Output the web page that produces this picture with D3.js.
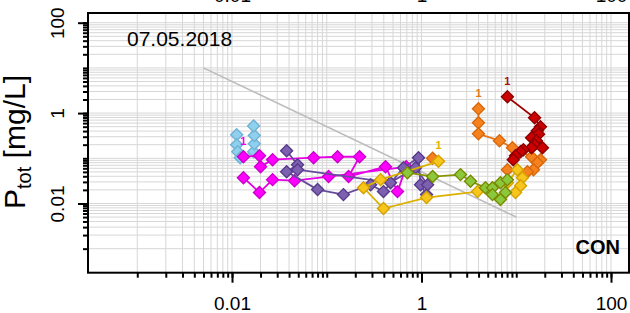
<!DOCTYPE html>
<html><head><meta charset="utf-8">
<script src="https://cdn.jsdelivr.net/npm/d3@7"></script>
<style>body{margin:0;background:#fff}svg{display:block}text{font-family:"Liberation Sans",Arial,sans-serif}</style>
</head><body><svg id="chart" width="630" height="313"></svg>
<script>
const xLabelTicks=[0.01,1,100];
const yLabelTicks=[0.01,1,100];
const tickDecades=[-3,-2,-1,0,1,2];
const dateLabel='07.05.2018';
const panelLabel='CON';
const startLabel='1';
const refLine=[[0.005,10],[10,0.005]];
// [Q, Ptot] pairs, in sampling order (null = gap in the line)
const lightBlue=[[0.0112,0.33],[0.0112,0.2],[0.0115,0.14],[0.0122,0.103],[0.0169,0.14],[0.0172,0.21],[0.0172,0.32],[0.0169,0.52]];
const magenta=[[0.0132,0.108],[0.0195,0.114],[0.02,0.0653],[0.0268,0.093],[0.0726,0.103],[0.13,0.108],[0.222,0.108],[0.17,0.0393],[0.417,0.0653],[0.558,0.0183],[0.69,0.065],[0.1045,0.0393],[0.0457,0.032],[0.0268,0.0337],[0.0195,0.0174],[0.0132,0.0373]];
const purple=[[0.0377,0.147],[0.0492,0.072],[0.0377,0.0506],[0.08,0.0203],[0.15,0.0157],[0.29,0.0261],[0.397,0.0183],[0.645,0.062],[0.93,0.103],[0.976,0.0261],[1.13,0.0157],[1.16,0.0261],[0.865,0.062],[0.471,0.0289],[0.0492,0.056]];
const orange=[[3.99,1.24],[3.99,0.611],[3.99,0.349],[6.65,0.245],[9.12,0.171],[14.5,0.108],[18,0.093],[16.7,0.08],[15.2,0.056],[13.1,0.0506],[8.07,0.056],null,[1.31,0.1]];
const darkRed=[[8.07,2.29],[15.6,0.787],[18,0.5],[16.7,0.407],[17.2,0.34],[14.5,0.285],[16.3,0.245],[15.6,0.2],[18.9,0.171],[14.5,0.171],[11.9,0.155],[11.1,0.14],[9.82,0.114],[9.3,0.093]];
const gold=[[1.51,0.0855],[0.37,0.0337],[0.244,0.0224],[0.397,0.0077],[1.13,0.0135],[3.9,0.0183],[8.07,0.0289],[10.3,0.056],[11.6,0.0373],[11.1,0.0248],[9.82,0.0174]];
const olive=[[0.711,0.048],[1.31,0.0393],[2.58,0.0435],[3.29,0.031],[4.73,0.0224],[5.61,0.0224],[6.81,0.0289],[8.07,0.0337],[7.69,0.0174],[6.81,0.0122],[5.61,0.0157]];
const seriesNames=['lightBlue','magenta','purple','orange','darkRed','gold','olive'];
const seriesData=[lightBlue,magenta,purple,orange,darkRed,gold,olive];
const labelledSeries=['magenta','orange','darkRed','gold'];

const style={
  lightBlue:{fill:'#8fd0ee',stroke:'#6fb2d4',line:'#8fc8e4',label:'#6fb2d4'},
  magenta:{fill:'#ff00ff',stroke:'#cc00cc',line:'#e600e6',label:'#ee00ee'},
  purple:{fill:'#7d60b0',stroke:'#583c8c',line:'#684a9c',label:'#684a9c'},
  orange:{fill:'#f6821f',stroke:'#d8680c',line:'#e8761a',label:'#e8761a'},
  darkRed:{fill:'#cc0000',stroke:'#8e0000',line:'#a00000',label:'#a81010'},
  gold:{fill:'#f7c51c',stroke:'#d5a300',line:'#dcb000',label:'#e0b400'},
  olive:{fill:'#8cc83c',stroke:'#7a8a00',line:'#8a9400',label:'#7a8a00'}
};

const L=88,R=629,T=13,B=272.7;
const svg=d3.select('#chart');
const x=d3.scaleLog().domain([0.000302,154.9]).range([L,R]);
const y=d3.scaleLog().domain([0.000294,163.9]).range([B,T]);
const allTicks=tickDecades.flatMap(k=>d3.range(1,10).map(m=>+(m*Math.pow(10,k)).toPrecision(3))).filter(v=>v<=100);

svg.append('defs').append('clipPath').attr('id','clip').append('rect').attr('x',L).attr('y',T).attr('width',R-L).attr('height',B-T);

// grid
const grid=svg.append('g').attr('stroke','#d7d7d7').attr('stroke-width',1);
grid.selectAll('.gx').data(allTicks).join('line').attr('x1',d=>x(d)).attr('x2',d=>x(d)).attr('y1',T).attr('y2',B);
grid.selectAll('.gy').data(allTicks).join('line').attr('y1',d=>y(d)).attr('y2',d=>y(d)).attr('x1',L).attr('x2',R);

// reference line
svg.append('path').datum(refLine).attr('fill','none').attr('stroke','#bcbcbc').attr('stroke-width',1.6)
  .attr('d',d3.line().x(d=>x(d[0])).y(d=>y(d[1])));

// series
const plot=svg.append('g').attr('clip-path','url(#clip)');
const line=d3.line().defined(d=>d!==null).x(d=>x(d[0])).y(d=>y(d[1]));
const diamond=d3.symbol(d3.symbolSquare,72);
seriesNames.forEach((name,i)=>{
  const s=style[name],pts=seriesData[i];
  const g=plot.append('g');
  g.append('path').datum(pts).attr('fill','none').attr('stroke',s.line).attr('stroke-width',1.8).attr('d',line);
  g.selectAll('path.pt').data(pts.filter(d=>d!==null)).join('path').attr('class','pt').attr('d',diamond)
    .attr('transform',d=>`translate(${x(d[0])},${y(d[1])}) rotate(45)`)
    .attr('fill',s.fill).attr('stroke',s.stroke).attr('stroke-width',1.4);
  if(labelledSeries.includes(name)){
    g.append('text').attr('x',x(pts[0][0])).attr('y',y(pts[0][1])-12).attr('text-anchor','middle')
      .attr('font-size',11).attr('font-weight','bold').attr('fill',s.label).text(startLabel);
  }
});

// axes
function styleAxis(g){g.select('.domain').remove();g.selectAll('line').attr('stroke','#000').attr('stroke-width',2);g.selectAll('text').attr('fill','#000').attr('font-size',19)}
svg.append('g').attr('transform',`translate(0,${B})`).call(d3.axisBottom(x).tickValues(allTicks).tickSize(5).tickFormat('')).call(styleAxis);
svg.append('g').attr('transform',`translate(0,${B})`).call(d3.axisBottom(x).tickValues(xLabelTicks).tickSize(10).tickPadding(14).tickFormat(d=>String(d))).call(styleAxis);
svg.append('g').attr('transform',`translate(0,${T})`).call(d3.axisTop(x).tickValues(xLabelTicks).tickSize(0).tickPadding(11).tickFormat(d=>String(d))).call(styleAxis);
svg.append('g').attr('transform',`translate(${L},0)`).call(d3.axisLeft(y).tickValues(allTicks).tickSize(5).tickFormat('')).call(styleAxis);
const yMaj=svg.append('g').attr('transform',`translate(${L},0)`).call(d3.axisLeft(y).tickValues(yLabelTicks).tickSize(10).tickFormat(d=>String(d))).call(styleAxis);
yMaj.selectAll('text').attr('transform','rotate(-90)').attr('x',0).attr('y',-24.5).attr('dy',0).attr('text-anchor','middle');

// frame
svg.append('rect').attr('x',L).attr('y',T).attr('width',R-L).attr('height',B-T).attr('fill','none').attr('stroke','#000').attr('stroke-width',2);

// texts
svg.append('text').attr('x',127).attr('y',46).attr('font-size',21).text(dateLabel);
svg.append('text').attr('x',620).attr('y',254).attr('font-size',20).attr('font-weight','bold').attr('text-anchor','end').text(panelLabel);
const yt=svg.append('text').attr('transform','translate(25,142) rotate(-90)').attr('text-anchor','middle').attr('font-size',30);
yt.append('tspan').text('P');
yt.append('tspan').attr('font-size',20).attr('dy',6).text('tot');
yt.append('tspan').attr('dy',-6).text(' [mg/L]');
</script></body></html>
